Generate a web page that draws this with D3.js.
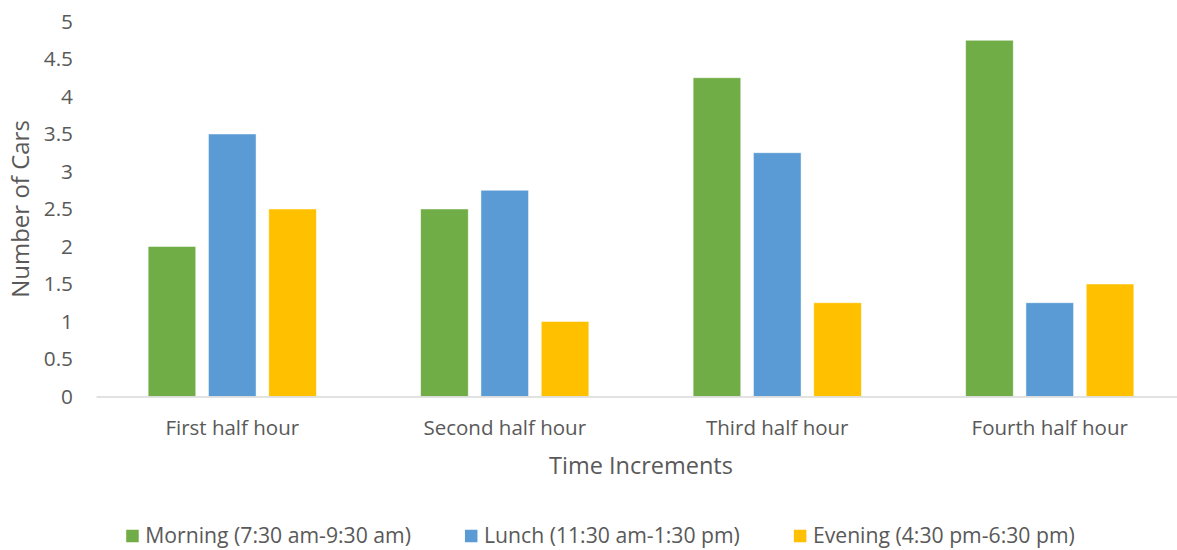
<!DOCTYPE html>
<html>
<head>
<meta charset="utf-8">
<script src="https://cdn.jsdelivr.net/npm/d3@7"></script>
<style>
  html, body { margin: 0; padding: 0; background: #fff; }
  svg { display: block; font-family: "Open Sans", sans-serif; }
</style>
</head>
<body>
<svg id="chart" width="1177" height="550"></svg>
<script>
// Car counts per half-hour window, by time of day
const categories = ["First half hour", "Second half hour", "Third half hour", "Fourth half hour"];
const seriesNames = ["Morning (7:30 am-9:30 am)", "Lunch (11:30 am-1:30 pm)", "Evening (4:30 pm-6:30 pm)"];
const morning = [2, 2.5, 4.25, 4.75];
const lunch = [3.5, 2.75, 3.25, 1.25];
const evening = [2.5, 1, 1.25, 1.5];
const yTicks = [0, 0.5, 1, 1.5, 2, 2.5, 3, 3.5, 4, 4.5, 5];
const colors = ["#70AD47", "#5B9BD5", "#FFC000"];

const seriesValues = [morning, lunch, evening];
const rows = categories.map((c, i) => ({
  category: c,
  values: seriesNames.map((s, j) => ({ series: s, value: seriesValues[j][i], color: colors[j] }))
}));

const svg = d3.select("#chart");
const textColor = "#595959";

const x0 = d3.scaleBand().domain(categories).range([96, 1186]).padding(0);
const groupW = 168.2;
const x1 = d3.scaleBand().domain(seriesNames).range([-groupW / 2, groupW / 2]).paddingInner(0.2106).paddingOuter(0);
const y = d3.scaleLinear().domain([0, 5]).range([396.5, 21.5]);

// bars
const groups = svg.append("g").selectAll("g").data(rows).join("g")
  .attr("transform", d => `translate(${x0(d.category) + x0.bandwidth() / 2},0)`);
groups.selectAll("rect").data(d => d.values).join("rect")
  .attr("x", d => x1(d.series))
  .attr("width", x1.bandwidth())
  .attr("y", d => y(d.value))
  .attr("height", d => y(0) - y(d.value))
  .attr("fill", d => d.color)
  .attr("stroke", "rgba(255,255,255,0.6)")
  .attr("stroke-width", 0.8);

// y axis (labels only)
const yAxis = svg.append("g").attr("transform", "translate(96,0)")
  .call(d3.axisLeft(y).tickValues(yTicks).tickSize(0).tickPadding(23).tickFormat(d3.format("~g")));
yAxis.select(".domain").remove();
yAxis.selectAll("text").attr("fill", textColor).style("font-size", "20.8px").style("font-family", "Open Sans");

// x axis
const xAxis = svg.append("g").attr("transform", `translate(0,${y(0)})`)
  .call(d3.axisBottom(x0).tickSize(0).tickPadding(24));
xAxis.select(".domain").attr("stroke", "#D9D9D9").attr("stroke-width", 1.5);
xAxis.selectAll("text").attr("fill", textColor).style("font-size", "20.5px").style("font-family", "Open Sans");

// axis titles
svg.append("text")
  .attr("transform", `translate(29,${(y(0) + y(5)) / 2}) rotate(-90)`)
  .attr("text-anchor", "middle")
  .attr("fill", textColor).style("font-size", "24px")
  .text("Number of Cars");
svg.append("text")
  .attr("x", 641).attr("y", 474)
  .attr("text-anchor", "middle")
  .attr("fill", textColor).style("font-size", "23.5px")
  .text("Time Increments");

// legend
const legend = svg.append("g");
const items = legend.selectAll("g").data(seriesNames).join("g");
items.append("rect").attr("width", 12.5).attr("height", 12.5).attr("y", -6.25)
  .attr("fill", (d, i) => colors[i]);
items.append("text").attr("x", 19).attr("dy", "0.35em")
  .attr("fill", textColor).style("font-size", "21.2px")
  .text(d => d);
let cx = 0;
const gap = 54;
const widths = [];
items.each(function () { widths.push(this.getBBox().width); });
const total = d3.sum(widths) + gap * (widths.length - 1);
cx = 600.5 - total / 2;
items.attr("transform", (d, i) => {
  const t = `translate(${cx},536)`;
  cx += widths[i] + gap;
  return t;
});
</script>
</body>
</html>
